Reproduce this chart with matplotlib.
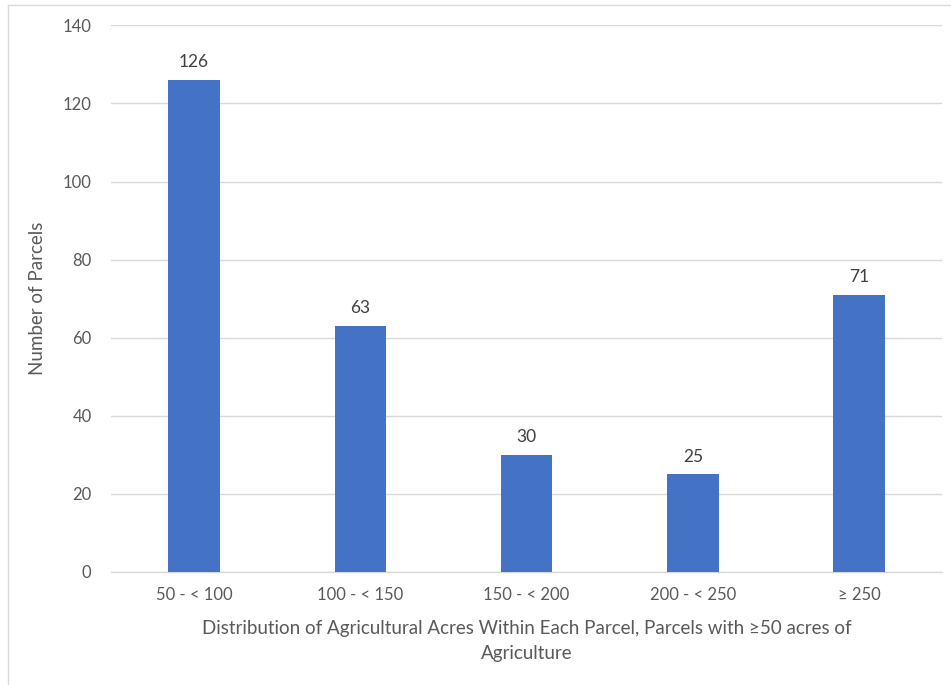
import matplotlib.pyplot as plt
from matplotlib.lines import Line2D

categories = ["50 - < 100", "100 - < 150", "150 - < 200", "200 - < 250", "\u2265 250"]
parcel_counts = [126, 63, 30, 25, 71]
y_ticks = [0, 20, 40, 60, 80, 100, 120, 140]

text_color = "#595959"
bar_color = "#4472C4"
grid_color = "#D9D9D9"

plt.rcParams["font.family"] = ["Lato", "DejaVu Sans"]

fig = plt.figure(figsize=(9.51, 6.85), dpi=100)
ax = fig.add_axes([0.1167, 0.165, 0.874, 0.798])

x = list(range(len(categories)))
bars = ax.bar(x, parcel_counts, width=0.31, color=bar_color, zorder=3)

for rect, val in zip(bars, parcel_counts):
    ax.annotate(str(val), (rect.get_x() + rect.get_width() / 2, val),
                xytext=(0, 7), textcoords="offset points",
                ha="center", va="bottom", fontsize=12.5, color="#404040")

ax.set_xlim(-0.5, len(categories) - 0.5)
ax.set_ylim(0, 140)
ax.set_yticks(y_ticks)
ax.set_xticks(x)
ax.set_xticklabels(categories)
ax.tick_params(axis="both", length=0, colors=text_color, labelsize=12)
ax.tick_params(axis="x", pad=11)
ax.tick_params(axis="y", pad=14)

ax.grid(axis="y", color=grid_color, linewidth=1.0, zorder=0)
for side in ["top", "right", "left"]:
    ax.spines[side].set_visible(False)
ax.spines["bottom"].set_color(grid_color)
ax.spines["bottom"].set_linewidth(1.0)

ax.set_ylabel("Number of Parcels", fontsize=13.5, color=text_color, labelpad=12)
ax.set_xlabel("Distribution of Agricultural Acres Within Each Parcel, Parcels with \u226550 acres of\nAgriculture",
              fontsize=13.5, color=text_color, labelpad=12, linespacing=1.6)

# chart area border (top and left visible)
fig.add_artist(Line2D([8 / 951, 1.0], [1 - 5 / 685, 1 - 5 / 685], transform=fig.transFigure,
                      color=grid_color, linewidth=1.0))
fig.add_artist(Line2D([8 / 951, 8 / 951], [0.0, 1 - 5 / 685], transform=fig.transFigure,
                      color=grid_color, linewidth=1.0))

fig.savefig("out.png", dpi=100)
